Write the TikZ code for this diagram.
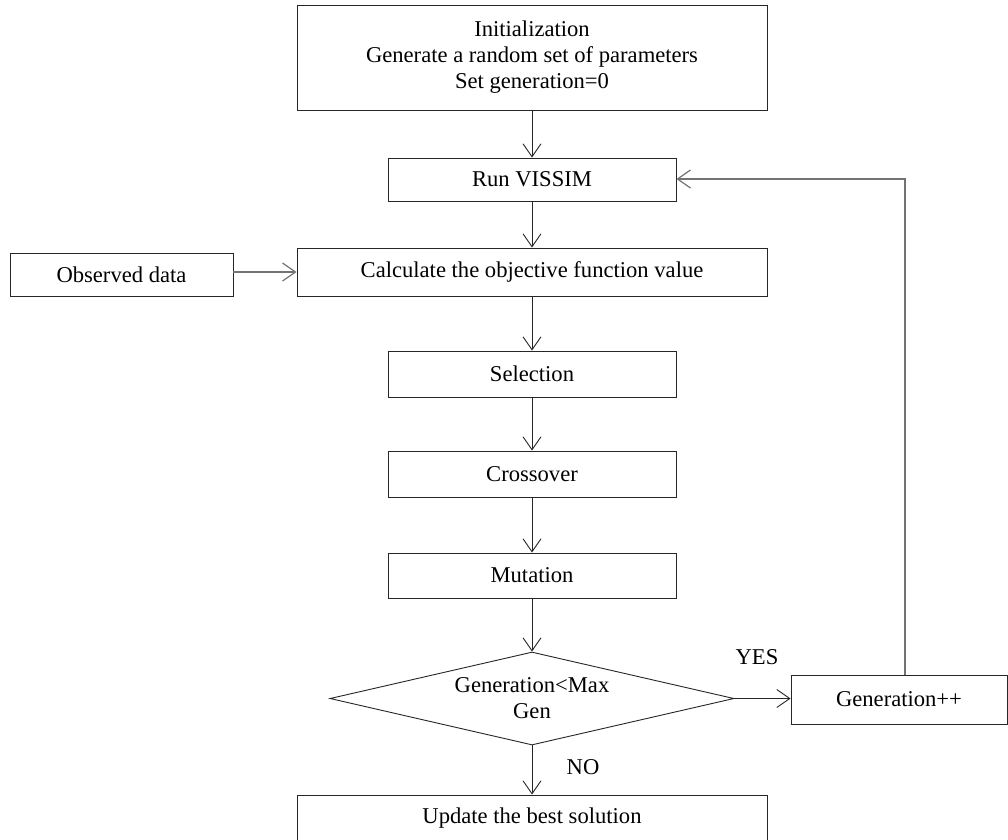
\documentclass[tikz,border=0pt]{standalone}
\usepackage{fontspec}
\setmainfont{Liberation Serif}
\usetikzlibrary{arrows.meta,shapes.geometric}
\begin{document}
\begin{tikzpicture}[x=1pt,y=-1pt,
  font=\fontsize{22.6}{26}\selectfont,
  box/.style={draw=black!85,line width=0.9pt,rectangle,inner sep=0pt,align=center},
  dec/.style={draw=black!85,line width=0.9pt,diamond,aspect=4.34,inner sep=0pt,
    minimum width=404pt,minimum height=93pt,align=center},
  arr/.style={draw=black!85,line width=0.9pt,-{Straight Barb[length=13pt,width=18pt,line width=0.9pt]}},
  garr/.style={draw=black!55,line width=1.4pt,-{Straight Barb[length=13pt,width=18pt,line width=1.2pt]}},
  lbl/.style={inner sep=0pt}]
\useasboundingbox (0,0) rectangle (1008,839);
\clip (0,0) rectangle (1008,839);
\node[box,minimum width=470pt,minimum height=105pt] (init) at (532,57.5)
  {Initialization\\Generate a random set of parameters\\Set generation=0};
\node[box,minimum width=288pt,minimum height=43pt] (run) at (532,179.5) {Run VISSIM};
\node[box,minimum width=470pt,minimum height=48pt] (calc) at (532,272) {Calculate the objective function value};
\node[box,minimum width=223pt,minimum height=43pt] (obs) at (121.5,274.5) {Observed data};
\node[box,minimum width=288pt,minimum height=46pt] (sel) at (532,374) {Selection};
\node[box,minimum width=288pt,minimum height=46pt] (cross) at (532,474) {Crossover};
\node[box,minimum width=288pt,minimum height=45pt] (mut) at (532,575.5) {Mutation};
\node[dec] (dec) at (532,698.5) {Generation\textless Max\\Gen};
\node[box,minimum width=216pt,minimum height=49pt] (gen) at (899,699.5) {Generation++};
\node[box,minimum width=470pt,minimum height=47pt] (upd) at (532,818.5) {Update the best solution};
\node[lbl] (yes) at (757,657) {YES};
\node[lbl] (no) at (583,767.5) {NO};
\coordinate (gtop) at (905,675);
\coordinate (corner) at (905,179);
\draw[arr] (init.south) -- (run.north);
\draw[arr] (run.south) -- (calc.north);
\draw[garr] (obs.east |- calc.west) -- (calc.west);
\draw[arr] (calc.south) -- (sel.north);
\draw[arr] (sel.south) -- (cross.north);
\draw[arr] (cross.south) -- (mut.north);
\draw[arr] (mut.south) -- (dec.north);
\draw[arr] (dec.east) -- (gen.west |- dec.east);
\draw[arr] (dec.south) -- (upd.north);
\draw[garr] (gtop) -- (corner) -- (run.east |- corner);
\end{tikzpicture}
\end{document}
